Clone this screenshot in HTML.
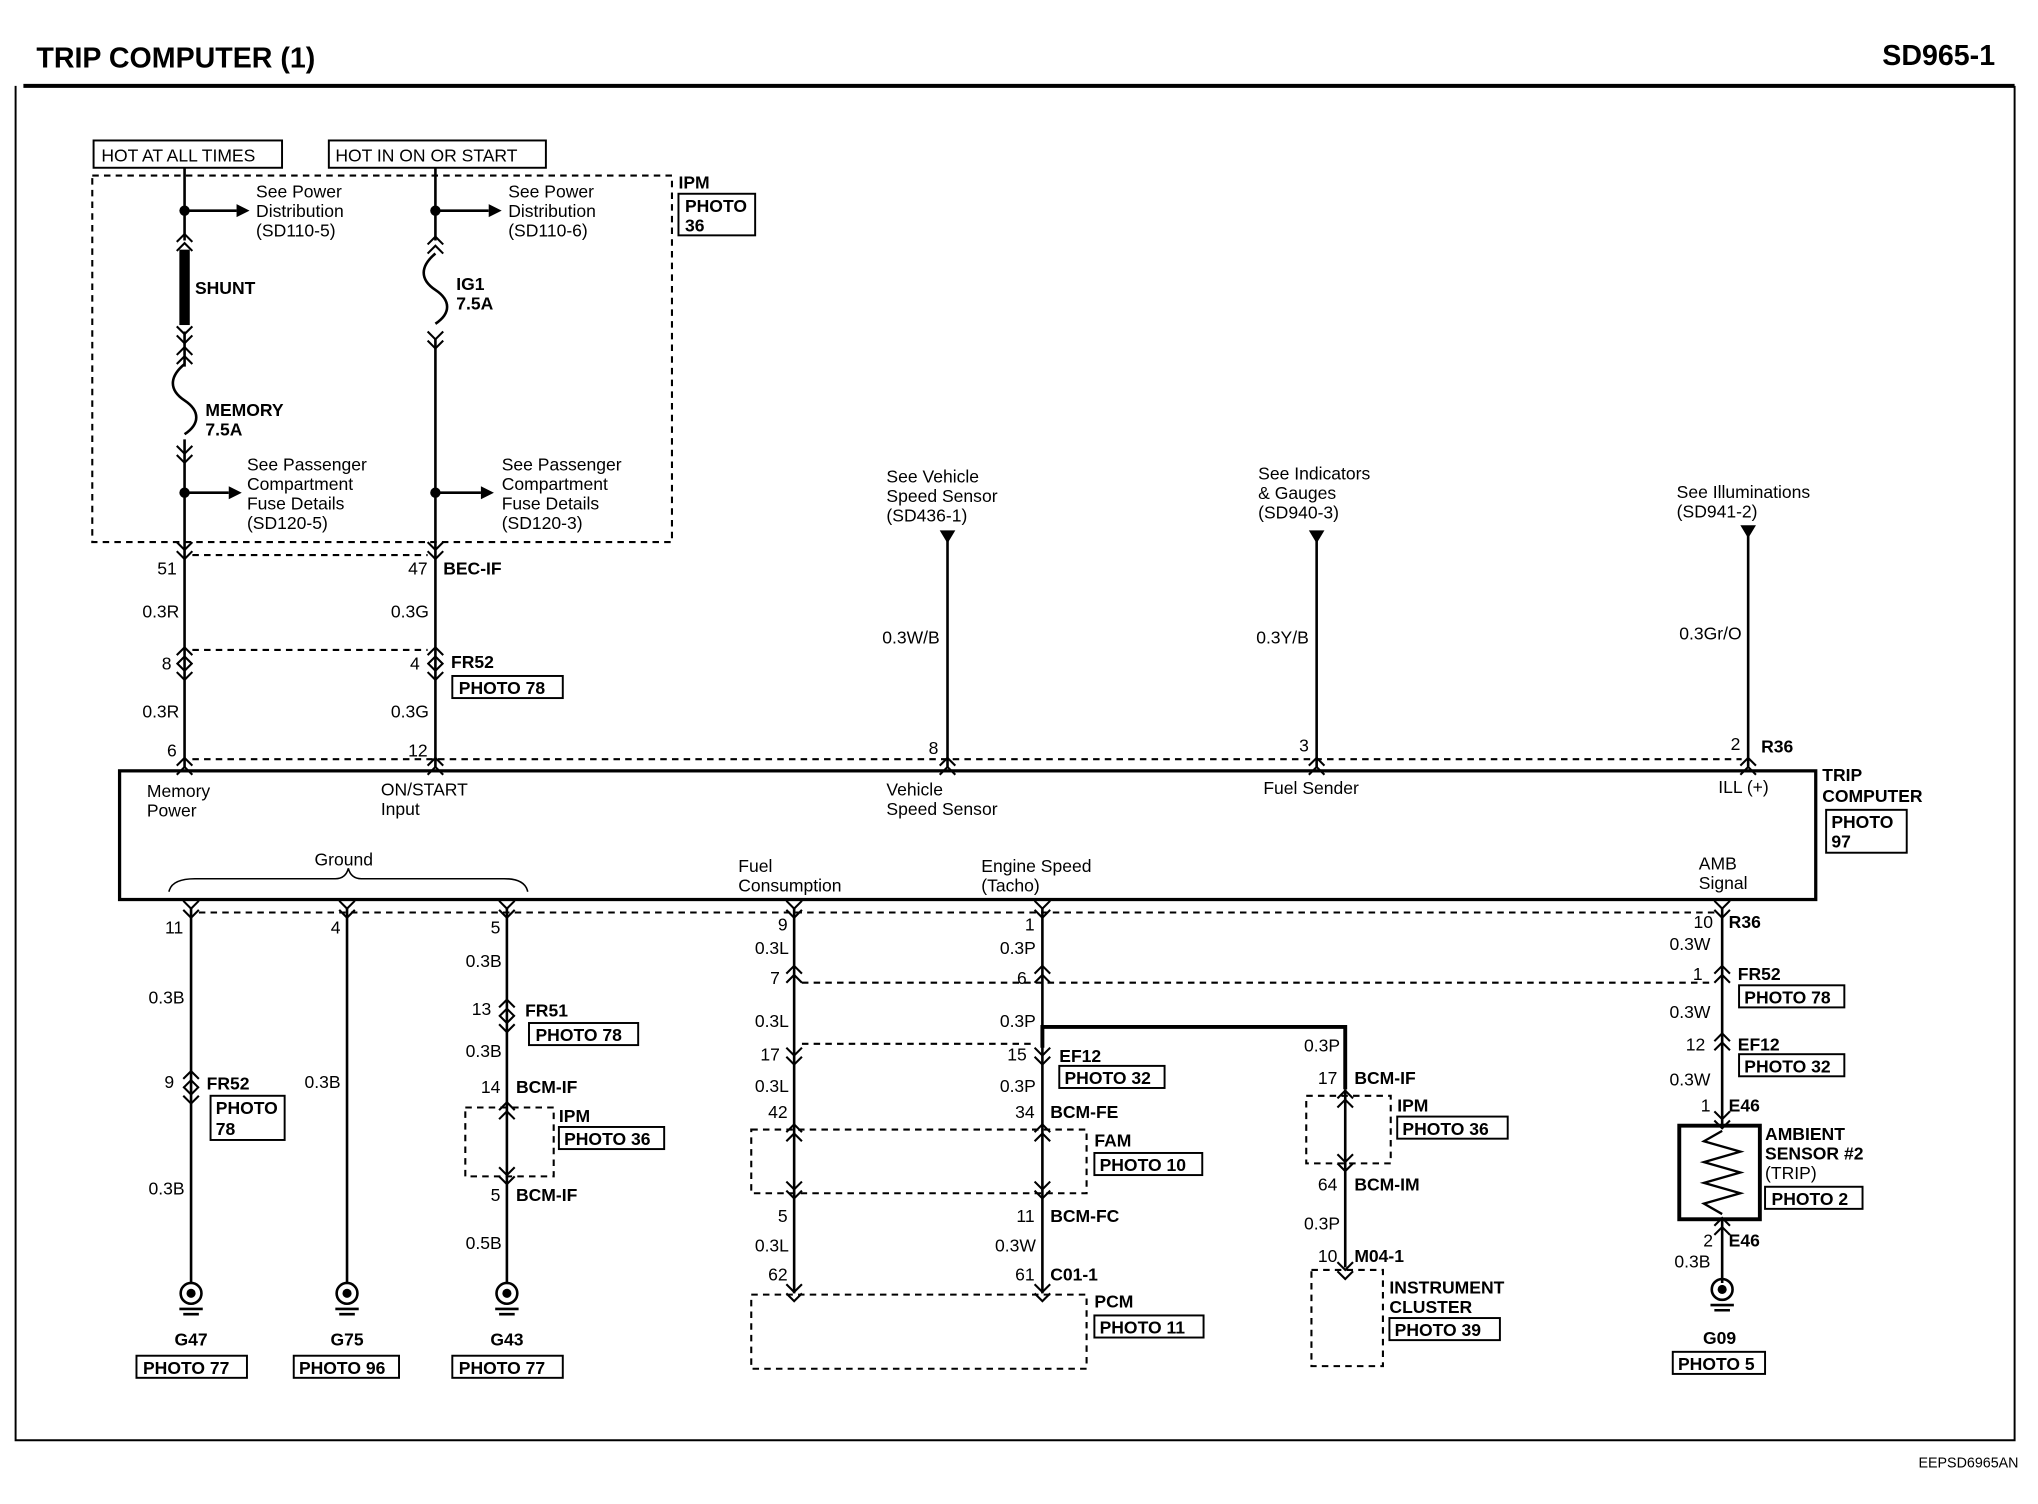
<!DOCTYPE html>
<html><head><meta charset="utf-8"><style>
html,body{margin:0;padding:0;background:#fff}
svg{display:block}
text{font-family:"Liberation Sans",Arial,sans-serif;font-size:13.5px;fill:#000}
.b{font-weight:bold}
.w{stroke:#000;stroke-width:2;fill:none}
.d{stroke:#000;stroke-width:1.6;fill:none;stroke-dasharray:5,4}
.bx{stroke:#000;stroke-width:1.5;fill:none}
</style></head><body>
<svg width="2038" height="1504" viewBox="0 0 1568 1157" xmlns="http://www.w3.org/2000/svg">
<defs>
<g id="cv"><path d="M-6,-7 L0,-1 L6,-7 M-6,0 L0,6 L6,0" stroke="#000" stroke-width="1.6" fill="none"/></g>
<g id="cu"><path d="M-6,1 L0,-5 L6,1 M-6,8 L0,2 L6,8" stroke="#000" stroke-width="1.6" fill="none"/></g>
<g id="gnd"><circle cx="0" cy="0" r="8" fill="none" stroke="#000" stroke-width="2"/><circle cx="0" cy="0" r="3.5" fill="#000"/><path d="M-9,12 H9 M-6,16 H6" stroke="#000" stroke-width="2"/></g>
<g id="tri"><path d="M-6,0 L6,0 L0,10 Z" fill="#000"/></g>
</defs>
<rect width="1568" height="1157" fill="#fff"/>
<text x="28" y="52" class="b" style="font-size:22px">TRIP COMPUTER (1)</text>
<text x="1535" y="50" class="b" text-anchor="end" style="font-size:22px">SD965-1</text>
<path d="M18,66 H1550" stroke="#000" stroke-width="3"/>
<path d="M12,66 V1108 H1550 V66" stroke="#000" stroke-width="1.5" fill="none"/>
<text x="1553" y="1129" text-anchor="end" style="font-size:11px">EEPSD6965AN</text>

<!-- top boxes -->
<rect x="72" y="108" width="145" height="21" class="bx"/><text x="78" y="124">HOT AT ALL TIMES</text>
<rect x="253" y="108" width="167" height="21" class="bx"/><text x="258" y="124">HOT IN ON OR START</text>
<rect x="71" y="135" width="446" height="282" class="d"/>
<text x="522" y="145" class="b">IPM</text>
<rect x="522" y="149" width="59" height="32" class="bx"/><text x="527" y="163" class="b">PHOTO</text><text x="527" y="178" class="b">36</text>

<!-- left wire x=142 -->
<path d="M142,129 V185 M142,255 V282 M142,338 V420" class="w"/>
<circle cx="142" cy="162" r="4"/><path d="M142,162 H182" class="w"/><path d="M182,157 L192,162 L182,167Z"/>
<text x="197" y="152">See Power</text><text x="197" y="167">Distribution</text><text x="197" y="182">(SD110-5)</text>
<use href="#cu" x="142" y="185"/>
<rect x="138" y="192" width="8" height="58" fill="#000"/>
<use href="#cv" x="142" y="258"/>
<text x="150" y="226" class="b">SHUNT</text>
<use href="#cu" x="142" y="272"/>
<path d="M142,280 C130,290 130,300 142,308 C154,316 154,326 142,334" class="w"/>
<use href="#cv" x="142" y="350"/>
<text x="158" y="320" class="b">MEMORY</text><text x="158" y="335" class="b">7.5A</text>
<circle cx="142" cy="379" r="4"/><path d="M142,379 H176" class="w"/><path d="M176,374 L186,379 L176,384Z"/>
<text x="190" y="362">See Passenger</text><text x="190" y="377">Compartment</text><text x="190" y="392">Fuse Details</text><text x="190" y="407">(SD120-5)</text>

<!-- right wire x=335 -->
<path d="M335,129 V185 M335,260 V420" class="w"/>
<circle cx="335" cy="162" r="4"/><path d="M335,162 H376" class="w"/><path d="M376,157 L386,162 L376,167Z"/>
<text x="391" y="152">See Power</text><text x="391" y="167">Distribution</text><text x="391" y="182">(SD110-6)</text>
<use href="#cu" x="335" y="187"/>
<path d="M335,195 C323,205 323,215 335,223 C347,231 347,241 335,249" class="w"/>
<use href="#cv" x="335" y="262"/>
<text x="351" y="223" class="b">IG1</text><text x="351" y="238" class="b">7.5A</text>
<circle cx="335" cy="379" r="4"/><path d="M335,379 H370" class="w"/><path d="M370,374 L380,379 L370,384Z"/>
<text x="386" y="362">See Passenger</text><text x="386" y="377">Compartment</text><text x="386" y="392">Fuse Details</text><text x="386" y="407">(SD120-3)</text>

<!-- connectors below IPM -->
<path d="M142,420 V590 M335,420 V590" class="w"/>
<use href="#cv" x="142" y="424"/><use href="#cv" x="335" y="424"/>
<path d="M148,427 H329" class="d"/>
<text x="136" y="442" text-anchor="end">51</text><text x="329" y="442" text-anchor="end">47</text><text x="341" y="442" class="b">BEC-IF</text>
<text x="138" y="475" text-anchor="end">0.3R</text><text x="330" y="475" text-anchor="end">0.3G</text>
<use href="#cu" x="142" y="503"/><use href="#cv" x="142" y="517"/>
<use href="#cu" x="335" y="503"/><use href="#cv" x="335" y="517"/>
<path d="M148,500 H329" class="d"/>
<text x="132" y="515" text-anchor="end">8</text><text x="323" y="515" text-anchor="end">4</text>
<text x="347" y="514" class="b">FR52</text>
<rect x="348" y="520" width="85" height="17" class="bx"/><text x="353" y="534" class="b">PHOTO 78</text>
<text x="138" y="552" text-anchor="end">0.3R</text><text x="330" y="552" text-anchor="end">0.3G</text>
<text x="136" y="582" text-anchor="end">6</text><text x="329" y="582" text-anchor="end">12</text>

<!-- upper right wires -->
<path d="M729,410 V590 M1013,410 V590 M1345,410 V590" class="w"/>
<use href="#tri" x="729" y="408"/><use href="#tri" x="1013" y="408"/><use href="#tri" x="1345" y="404"/>
<text x="682" y="371">See Vehicle</text><text x="682" y="386">Speed Sensor</text><text x="682" y="401">(SD436-1)</text>
<text x="968" y="369">See Indicators</text><text x="968" y="384">&amp; Gauges</text><text x="968" y="399">(SD940-3)</text>
<text x="1290" y="383">See Illuminations</text><text x="1290" y="398">(SD941-2)</text>
<text x="723" y="495" text-anchor="end">0.3W/B</text><text x="1007" y="495" text-anchor="end">0.3Y/B</text><text x="1340" y="492" text-anchor="end">0.3Gr/O</text>
<text x="722" y="580" text-anchor="end">8</text><text x="1007" y="578" text-anchor="end">3</text><text x="1339" y="577" text-anchor="end">2</text>
<text x="1355" y="579" class="b">R36</text>
<path d="M148,584 H1340" class="d"/>
<use href="#cu" x="142" y="588"/><use href="#cu" x="335" y="588"/><use href="#cu" x="729" y="588"/><use href="#cu" x="1013" y="588"/><use href="#cu" x="1345" y="588"/>

<!-- trip computer box -->
<rect x="92" y="593" width="1305" height="99" fill="none" stroke="#000" stroke-width="2.5"/>
<text x="113" y="613">Memory</text><text x="113" y="628">Power</text>
<text x="293" y="612">ON/START</text><text x="293" y="627">Input</text>
<text x="682" y="612">Vehicle</text><text x="682" y="627">Speed Sensor</text>
<text x="972" y="611">Fuel Sender</text>
<text x="1322" y="610">ILL (+)</text>
<text x="1402" y="601" class="b">TRIP</text><text x="1402" y="617" class="b">COMPUTER</text>
<rect x="1405" y="623" width="62" height="33" class="bx"/><text x="1409" y="637" class="b">PHOTO</text><text x="1409" y="652" class="b">97</text>
<text x="242" y="666">Ground</text>
<path d="M130,686 Q132,676 150,676 H258 Q266,676 268,668 Q270,676 278,676 H388 Q404,676 406,686" stroke="#000" stroke-width="1.2" fill="none"/>
<text x="568" y="671">Fuel</text><text x="568" y="686">Consumption</text>
<text x="755" y="671">Engine Speed</text><text x="755" y="686">(Tacho)</text>
<text x="1307" y="669">AMB</text><text x="1307" y="684">Signal</text>

<!-- bottom pins -->
<path d="M153,702 H1320" class="d"/>
<g>
<use href="#cv" x="147" y="700"/><use href="#cv" x="267" y="700"/><use href="#cv" x="390" y="700"/><use href="#cv" x="611" y="700"/><use href="#cv" x="802" y="700"/><use href="#cv" x="1325" y="700"/>
</g>
<!-- G47 -->
<path d="M147,698 V987 M267,698 V987 M390,698 V987" class="w"/>
<text x="141" y="718" text-anchor="end">11</text><text x="142" y="772" text-anchor="end">0.3B</text>
<use href="#cu" x="147" y="829"/><use href="#cv" x="147" y="843"/>
<text x="134" y="837" text-anchor="end">9</text><text x="159" y="838" class="b">FR52</text>
<rect x="162" y="843" width="57" height="34" class="bx"/><text x="166" y="857" class="b">PHOTO</text><text x="166" y="873" class="b">78</text>
<text x="142" y="919" text-anchor="end">0.3B</text>
<use href="#gnd" x="147" y="995"/><text x="147" y="1035" class="b" text-anchor="middle">G47</text>
<rect x="105" y="1043" width="85" height="17" class="bx"/><text x="110" y="1057" class="b">PHOTO 77</text>
<!-- G75 -->
<text x="262" y="718" text-anchor="end">4</text><text x="262" y="837" text-anchor="end">0.3B</text>
<use href="#gnd" x="267" y="995"/><text x="267" y="1035" class="b" text-anchor="middle">G75</text>
<rect x="226" y="1043" width="81" height="17" class="bx"/><text x="230" y="1057" class="b">PHOTO 96</text>
<!-- G43 -->
<text x="385" y="718" text-anchor="end">5</text><text x="386" y="744" text-anchor="end">0.3B</text>
<use href="#cu" x="390" y="774"/><use href="#cv" x="390" y="788"/>
<text x="378" y="781" text-anchor="end">13</text><text x="404" y="782" class="b">FR51</text>
<rect x="407" y="787" width="84" height="17" class="bx"/><text x="412" y="801" class="b">PHOTO 78</text>
<text x="386" y="813" text-anchor="end">0.3B</text>
<text x="385" y="841" text-anchor="end">14</text><text x="397" y="841" class="b">BCM-IF</text>
<rect x="358" y="852" width="68" height="53" class="d"/>
<use href="#cu" x="390" y="853"/><use href="#cv" x="390" y="905"/>
<text x="430" y="863" class="b">IPM</text>
<rect x="430" y="867" width="81" height="17" class="bx"/><text x="434" y="881" class="b">PHOTO 36</text>
<text x="385" y="924" text-anchor="end">5</text><text x="397" y="924" class="b">BCM-IF</text>
<text x="386" y="961" text-anchor="end">0.5B</text>
<use href="#gnd" x="390" y="995"/><text x="390" y="1035" class="b" text-anchor="middle">G43</text>
<rect x="348" y="1043" width="85" height="17" class="bx"/><text x="353" y="1057" class="b">PHOTO 77</text>

<!-- Fuel consumption x=611, engine x=802 -->
<path d="M611,698 V995 M802,698 V995" class="w"/>
<text x="606" y="716" text-anchor="end">9</text><text x="607" y="734" text-anchor="end">0.3L</text>
<text x="796" y="716" text-anchor="end">1</text><text x="797" y="734" text-anchor="end">0.3P</text>
<use href="#cu" x="611" y="748"/><use href="#cu" x="802" y="748"/><use href="#cu" x="1325" y="748"/>
<path d="M617,756 H1318" class="d"/>
<text x="600" y="757" text-anchor="end">7</text><text x="790" y="757" text-anchor="end">6</text>
<text x="607" y="790" text-anchor="end">0.3L</text><text x="797" y="790" text-anchor="end">0.3P</text>
<path d="M617,803 H796" class="d"/>
<use href="#cv" x="611" y="813"/><use href="#cv" x="802" y="813"/>
<text x="600" y="816" text-anchor="end">17</text><text x="790" y="816" text-anchor="end">15</text>
<path d="M802,806 V790 H1035 V838" stroke="#000" stroke-width="3" fill="none"/>
<text x="815" y="817" class="b">EF12</text>
<rect x="815" y="820" width="81" height="17" class="bx"/><text x="819" y="834" class="b">PHOTO 32</text>
<text x="607" y="840" text-anchor="end">0.3L</text><text x="797" y="840" text-anchor="end">0.3P</text>
<text x="606" y="860" text-anchor="end">42</text><text x="796" y="860" text-anchor="end">34</text><text x="808" y="860" class="b">BCM-FE</text>
<rect x="578" y="869" width="258" height="49" class="d"/>
<use href="#cu" x="611" y="870"/><use href="#cu" x="802" y="870"/>
<use href="#cv" x="611" y="916"/><use href="#cv" x="802" y="916"/>
<text x="842" y="882" class="b">FAM</text>
<rect x="842" y="887" width="83" height="17" class="bx"/><text x="846" y="901" class="b">PHOTO 10</text>
<text x="606" y="940" text-anchor="end">5</text><text x="796" y="940" text-anchor="end">11</text><text x="808" y="940" class="b">BCM-FC</text>
<text x="607" y="963" text-anchor="end">0.3L</text><text x="797" y="963" text-anchor="end">0.3W</text>
<text x="606" y="985" text-anchor="end">62</text><text x="796" y="985" text-anchor="end">61</text><text x="808" y="985" class="b">C01-1</text>
<use href="#cv" x="611" y="995"/><use href="#cv" x="802" y="995"/>
<rect x="578" y="996" width="258" height="57" class="d"/>
<text x="842" y="1006" class="b">PCM</text>
<rect x="842" y="1012" width="84" height="17" class="bx"/><text x="846" y="1026" class="b">PHOTO 11</text>

<!-- instrument cluster branch x=1035 -->
<path d="M1035,838 V975" class="w"/>
<text x="1031" y="809" text-anchor="end">0.3P</text>
<text x="1029" y="834" text-anchor="end">17</text><text x="1042" y="834" class="b">BCM-IF</text>
<rect x="1005" y="843" width="65" height="52" class="d"/>
<use href="#cu" x="1035" y="844"/><use href="#cv" x="1035" y="895"/>
<text x="1075" y="855" class="b">IPM</text>
<rect x="1075" y="859" width="85" height="17" class="bx"/><text x="1079" y="873" class="b">PHOTO 36</text>
<text x="1029" y="916" text-anchor="end">64</text><text x="1042" y="916" class="b">BCM-IM</text>
<text x="1031" y="946" text-anchor="end">0.3P</text>
<text x="1029" y="971" text-anchor="end">10</text><text x="1042" y="971" class="b">M04-1</text>
<use href="#cv" x="1035" y="978"/>
<rect x="1009" y="977" width="55" height="74" class="d"/>
<text x="1069" y="995" class="b">INSTRUMENT</text><text x="1069" y="1010" class="b">CLUSTER</text>
<rect x="1069" y="1014" width="85" height="17" class="bx"/><text x="1073" y="1028" class="b">PHOTO 39</text>

<!-- AMB x=1325 -->
<path d="M1325,698 V866 M1325,938 V987" class="w"/>
<text x="1318" y="714" text-anchor="end">10</text><text x="1330" y="714" class="b">R36</text>
<text x="1316" y="731" text-anchor="end">0.3W</text>
<text x="1310" y="754" text-anchor="end">1</text><text x="1337" y="754" class="b">FR52</text>
<rect x="1338" y="758" width="81" height="17" class="bx"/><text x="1342" y="772" class="b">PHOTO 78</text>
<text x="1316" y="783" text-anchor="end">0.3W</text>
<use href="#cu" x="1325" y="800"/>
<text x="1312" y="808" text-anchor="end">12</text><text x="1337" y="808" class="b">EF12</text>
<rect x="1338" y="811" width="81" height="17" class="bx"/><text x="1342" y="825" class="b">PHOTO 32</text>
<text x="1316" y="835" text-anchor="end">0.3W</text>
<text x="1316" y="855" text-anchor="end">1</text><text x="1330" y="855" class="b">E46</text>
<use href="#cv" x="1325" y="862"/>
<rect x="1292" y="866" width="62" height="72" fill="none" stroke="#000" stroke-width="3"/>
<path d="M1325,870 L1311,878 L1339,886 L1311,894 L1339,902 L1311,910 L1339,918 L1311,926 L1325,934" stroke="#000" stroke-width="1.8" fill="none"/>
<text x="1358" y="877" class="b">AMBIENT</text><text x="1358" y="892" class="b">SENSOR #2</text><text x="1358" y="907">(TRIP)</text>
<rect x="1358" y="913" width="75" height="17" class="bx"/><text x="1363" y="927" class="b">PHOTO 2</text>
<use href="#cu" x="1325" y="942"/>
<text x="1318" y="959" text-anchor="end">2</text><text x="1330" y="959" class="b">E46</text>
<text x="1316" y="975" text-anchor="end">0.3B</text>
<use href="#gnd" x="1325" y="992"/><text x="1323" y="1034" class="b" text-anchor="middle">G09</text>
<rect x="1287" y="1040" width="71" height="17" class="bx"/><text x="1291" y="1054" class="b">PHOTO 5</text>
</svg>
</body></html>
